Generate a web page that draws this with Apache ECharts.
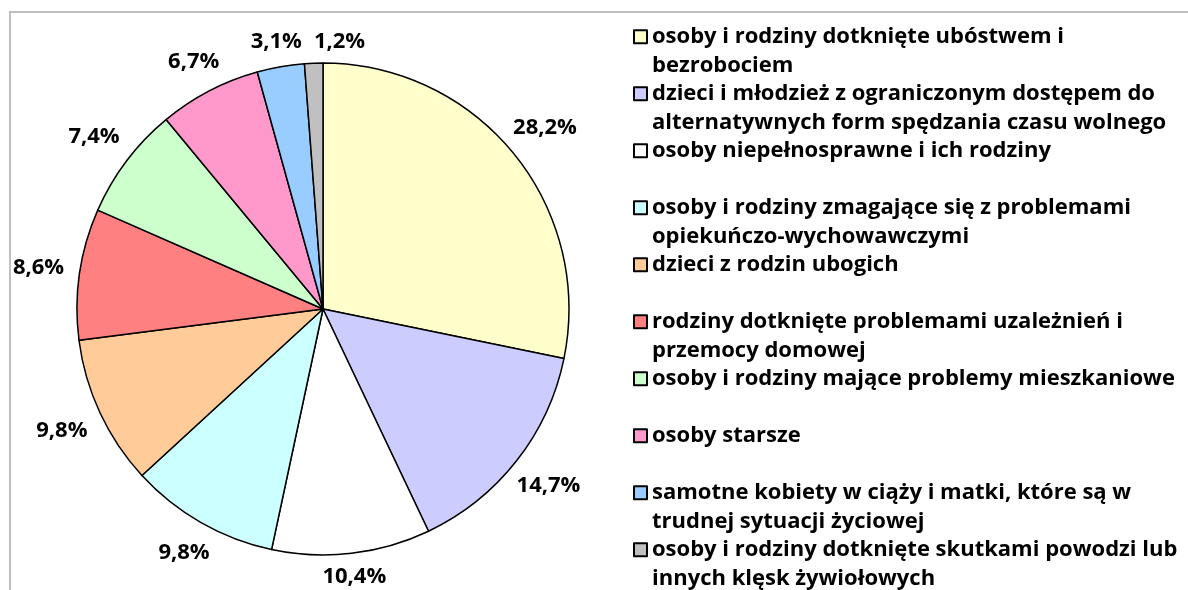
<!DOCTYPE html>
<html>
<head>
<meta charset="utf-8">
<script src="https://cdn.jsdelivr.net/npm/echarts@6/dist/echarts.min.js"></script>
<style>
  html, body { margin: 0; padding: 0; background: #fff; }
  #chart { width: 1188px; height: 590px; }
</style>
</head>
<body>
<div id="chart"></div>
<script>
// categories as wrapped in the original legend
const categories = [
  'osoby i rodziny dotknięte ubóstwem i\nbezrobociem',
  'dzieci i młodzież z ograniczonym dostępem do\nalternatywnych form spędzania czasu wolnego',
  'osoby niepełnosprawne i ich rodziny\n',
  'osoby i rodziny zmagające się z problemami\nopiekuńczo-wychowawczymi',
  'dzieci z rodzin ubogich\n',
  'rodziny dotknięte problemami uzależnień i\nprzemocy domowej',
  'osoby i rodziny mające problemy mieszkaniowe\n',
  'osoby starsze\n',
  'samotne kobiety w ciąży i matki, które są w\ntrudnej sytuacji życiowej',
  'osoby i rodziny dotknięte skutkami powodzi lub\ninnych klęsk żywiołowych'
];
const shares = [28.2, 14.7, 10.4, 9.8, 9.8, 8.6, 7.4, 6.7, 3.1, 1.2];
const palette = ['#ffffcc', '#ccccff', '#ffffff', '#ccffff', '#ffcc99',
                 '#ff8080', '#ccffcc', '#ff99cc', '#99ccff', '#c0c0c0'];

const font = '"Open Sans", sans-serif';
const pieR = 246;
const total = shares.reduce((a, b) => a + b, 0);

// label anchors: middle of each slice on a polar axis, pushed out so the
// text box clears the rim (roughly how Excel places "outside end" labels)
let acc = 0;
const labelPoints = shares.map(v => {
  const mid = acc + v / 2;
  acc += v;
  const a = mid / total * 2 * Math.PI;
  const d = pieR + 8 + Math.abs(Math.sin(a)) * 32 + Math.abs(Math.cos(a)) * 12;
  return [d, mid];
});

// nudge a label right when it runs into the previous one (the 3,1% / 1,2% pair)
let prevRect = null;
function avoidOverlap(p) {
  const r = p.labelRect;
  if (p.dataIndex === 0) prevRect = null;
  let dx = 0;
  if (prevRect &&
      r.x < prevRect.x + prevRect.width + 12 && r.x + r.width > prevRect.x &&
      r.y < prevRect.y + prevRect.height && r.y + r.height > prevRect.y) {
    dx = prevRect.x + prevRect.width + 12 - r.x;
  }
  prevRect = { x: r.x + dx, y: r.y, width: r.width, height: r.height };
  return { dx: dx };
}

const chart = echarts.init(document.getElementById('chart'));

chart.setOption({
  animation: false,
  graphic: [{
    type: 'rect',
    shape: { x: 10, y: 12, width: 1300, height: 700 },
    style: { fill: 'none', stroke: '#bfbfbf', lineWidth: 2 },
    silent: true
  }],
  polar: { center: [323, 309], radius: 320 },
  angleAxis: { type: 'value', min: 0, max: total, startAngle: 90, clockwise: true, show: false },
  radiusAxis: { type: 'value', min: 0, max: 320, show: false },
  legend: {
    orient: 'vertical',
    left: 633,
    top: -6,
    height: 900,
    padding: 0,
    itemGap: -28.5,
    itemWidth: 13,
    itemHeight: 13,
    selectedMode: false,
    icon: 'rect',
    data: categories,
    formatter: name => '\n' + name,
    itemStyle: { borderColor: '#000', borderWidth: 2 },
    textStyle: {
      fontFamily: font,
      fontWeight: 'bold',
      fontSize: 22,
      lineHeight: 28.5,
      color: '#000'
    }
  },
  series: [
    {
      type: 'pie',
      center: [323, 309],
      radius: pieR,
      startAngle: 90,
      clockwise: true,
      silent: true,
      data: categories.map((name, i) => ({
        name: name,
        value: shares[i],
        itemStyle: { color: palette[i] }
      })),
      itemStyle: { borderColor: '#000', borderWidth: 1.5 },
      label: { show: false },
      labelLine: { show: false }
    },
    {
      type: 'scatter',
      coordinateSystem: 'polar',
      symbolSize: 0,
      silent: true,
      itemStyle: { opacity: 1 },
      data: labelPoints,
      label: {
        show: true,
        position: 'inside',
        formatter: p => shares[p.dataIndex].toFixed(1).replace('.', ',') + '%',
        fontFamily: font,
        fontWeight: 'bold',
        fontSize: 22,
        color: '#000'
      },
      labelLayout: avoidOverlap
    }
  ]
});
</script>
</body>
</html>
